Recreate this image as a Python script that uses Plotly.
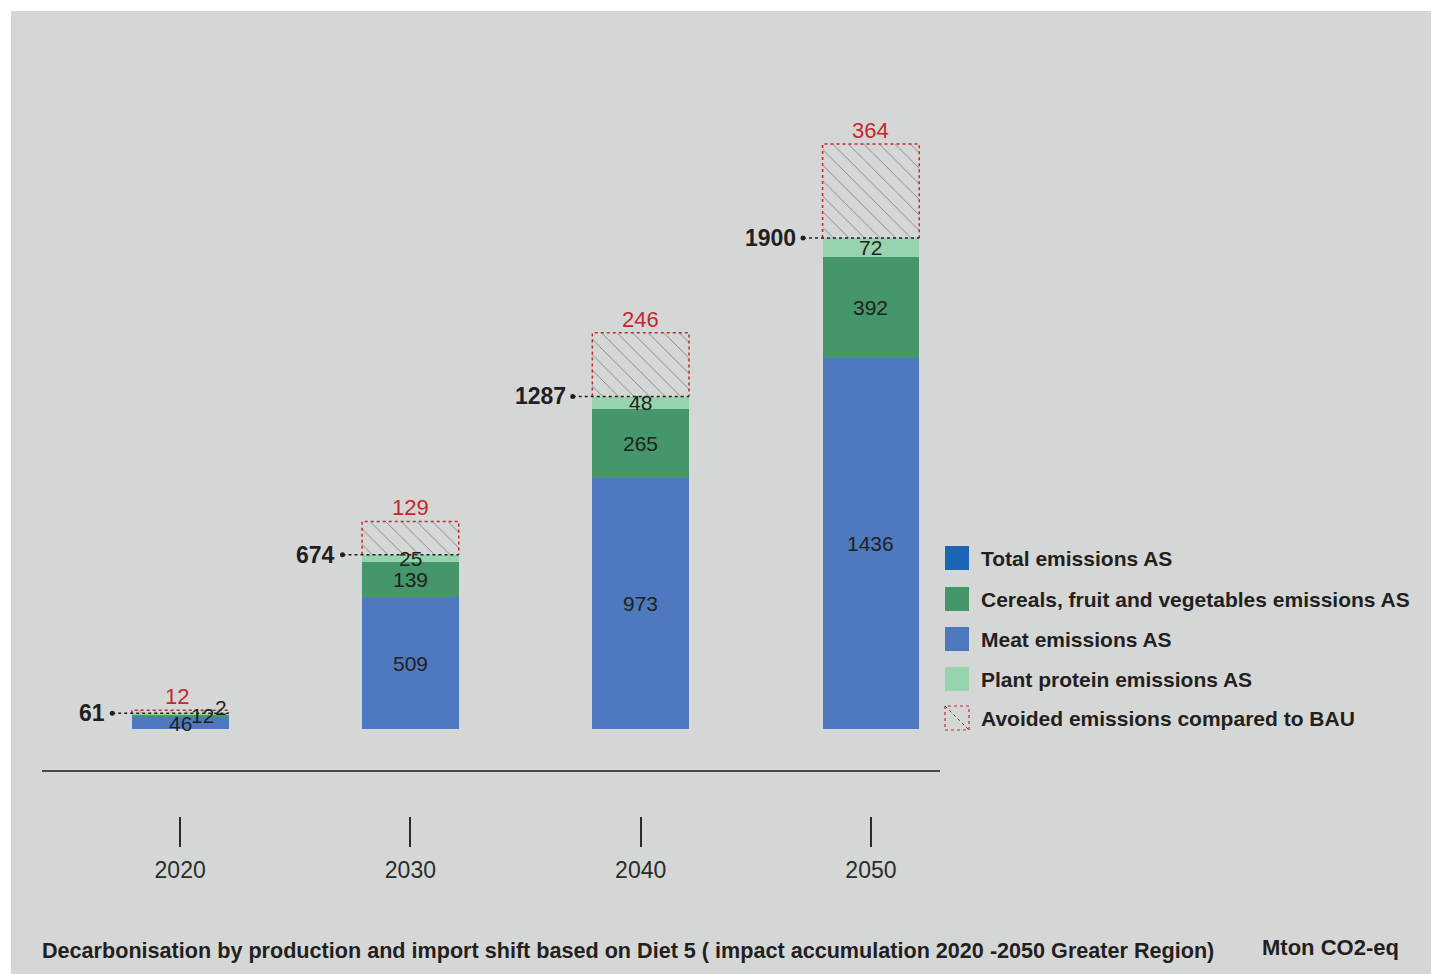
import plotly.graph_objects as go

# ---- data (Mton CO2-eq) ----
years = ["2020", "2030", "2040", "2050"]
meat = [46, 509, 973, 1436]
cereals = [12, 139, 265, 392]
plant_protein = [2, 25, 48, 72]
totals = [61, 674, 1287, 1900]
avoided = [12, 129, 246, 364]

legend_labels = [
    "Total emissions AS",
    "Cereals, fruit and vegetables emissions AS",
    "Meat emissions AS",
    "Plant protein emissions AS",
    "Avoided emissions compared to BAU",
]

# ---- styles ----
W, H = 1437, 974
BG = "#d5d7d6"
C_TOTAL = "#1a66b4"
C_CEREAL = "#45966a"
C_MEAT = "#4f79be"
C_PLANT = "#96d3ae"
C_RED = "#c4282f"
C_TEXT = "#231f20"
FONT = "Liberation Sans, Arial, sans-serif"

M_L, M_R, M_T, M_B = 42, 497, 100, 127
PLOT_W = W - M_L - M_R
PLOT_H = H - M_T - M_B
BASE_PX = 729            # pixel row of the zero line
PX_PER_UNIT = 491 / 1900
Y_RANGE = [-(H - M_B - BASE_PX) / PX_PER_UNIT, (BASE_PX - M_T) / PX_PER_UNIT]
X_RANGE = [-0.6, 3.3]
BAR_W = 0.42
HALF = BAR_W / 2
LEADER = 0.085


def px_x(p):
    return (p - M_L) / PLOT_W


def px_y(p):
    return (H - M_B - p) / PLOT_H


def data_y(p):
    return (BASE_PX - p) / PX_PER_UNIT


xs = list(range(len(years)))

fig = go.Figure()
fig.add_trace(go.Bar(x=xs, y=meat, width=BAR_W, marker=dict(color=C_MEAT, line_width=0),
                     name="Meat emissions AS", hoverinfo="skip"))
fig.add_trace(go.Bar(x=xs, y=cereals, width=BAR_W, marker=dict(color=C_CEREAL, line_width=0),
                     name="Cereals", hoverinfo="skip"))
fig.add_trace(go.Bar(x=xs, y=plant_protein, width=BAR_W, marker=dict(color=C_PLANT, line_width=0),
                     name="Plant protein", hoverinfo="skip"))
fig.add_trace(go.Bar(
    x=xs, y=avoided, width=BAR_W, name="Avoided", hoverinfo="skip",
    marker=dict(color=BG, line_width=0,
                pattern=dict(shape="\\", size=11, solidity=0.08, fgcolor="#2a2a2a", fgopacity=0.5)),
))

# leader dots next to the totals
fig.add_trace(go.Scatter(
    x=[i - HALF - LEADER for i in xs], y=totals, mode="markers",
    marker=dict(size=5, color=C_TEXT), hoverinfo="skip", showlegend=False,
))

shapes = []
annotations = []

# grey panel behind everything
shapes.append(dict(type="rect", xref="paper", yref="paper",
                   x0=px_x(11), x1=px_x(1431), y0=px_y(H + 5), y1=px_y(11),
                   fillcolor=BG, line_width=0, layer="below"))
# horizontal rule above the year ticks
shapes.append(dict(type="line", xref="paper", yref="y", x0=0, x1=1,
                   y0=data_y(771), y1=data_y(771), line=dict(color="#4a4a4a", width=2)))

for i, tot, av in zip(xs, totals, avoided):
    x0, x1 = i - HALF, i + HALF
    # avoided-emission box outline (left, top, right)
    shapes.append(dict(type="path", xref="x", yref="y",
                       path=f"M {x0},{tot} L {x0},{tot + av} L {x1},{tot + av} L {x1},{tot}",
                       line=dict(color=C_RED, width=1.5, dash="dot")))
    # dotted leader from the total label across the bar
    shapes.append(dict(type="line", xref="x", yref="y", x0=x0 - LEADER, x1=x1, y0=tot, y1=tot,
                       line=dict(color=C_TEXT, width=1.5, dash="dot")))
    annotations.append(dict(x=x0 - LEADER, y=tot, xref="x", yref="y", xanchor="right", yanchor="middle",
                            xshift=-5, text=f"<b>{tot}</b>", showarrow=False,
                            font=dict(size=23, color=C_TEXT, family=FONT)))
    annotations.append(dict(x=i, y=tot + av, xref="x", yref="y", xanchor="center", yanchor="bottom",
                            yshift=-1, xshift=-3 if i == 0 else 0, text=str(av), showarrow=False,
                            font=dict(size=22, color=C_RED, family=FONT)))

# value labels in the segments (small first bar gets staggered labels)
seg_shift = {
    0: [(0, 0), (22, 0), (41, 6)],
}
for i in xs:
    bottoms = [0, meat[i], meat[i] + cereals[i]]
    vals = [meat[i], cereals[i], plant_protein[i]]
    for k, (b, v) in enumerate(zip(bottoms, vals)):
        dx, dy = seg_shift.get(i, [(0, 0)] * 3)[k]
        annotations.append(dict(x=i, y=b + v / 2, xref="x", yref="y", xanchor="center", yanchor="middle",
                                xshift=dx, yshift=dy, text=str(v), showarrow=False,
                                font=dict(size=21, color=C_TEXT, family=FONT)))

# legend
leg_colors = [C_TOTAL, C_CEREAL, C_MEAT, C_PLANT, None]
leg_rows = [558, 599, 639, 679, 718]
for lab, col, row in zip(legend_labels, leg_colors, leg_rows):
    sx0, sx1, sy0, sy1 = px_x(945), px_x(969), px_y(row + 12), px_y(row - 12)
    if col:
        shapes.append(dict(type="rect", xref="paper", yref="paper", x0=sx0, x1=sx1, y0=sy0, y1=sy1,
                           fillcolor=col, line_width=0))
    else:
        shapes.append(dict(type="rect", xref="paper", yref="paper", x0=sx0, x1=sx1, y0=sy0, y1=sy1,
                           fillcolor=BG, line=dict(color=C_RED, width=1.2, dash="dot")))
        shapes.append(dict(type="line", xref="paper", yref="paper", x0=sx0, x1=sx1, y0=sy1, y1=sy0,
                           line=dict(color="#444", width=1, dash="dot")))
    annotations.append(dict(x=px_x(979), y=px_y(row), xref="paper", yref="paper", xanchor="left",
                            yanchor="middle", text=f"<b>{lab}</b>", showarrow=False,
                            font=dict(size=21, color=C_TEXT, family=FONT)))

# caption and unit
annotations.append(dict(x=px_x(40), y=px_y(950), xref="paper", yref="paper", xanchor="left", yanchor="middle",
                        text="<b>Decarbonisation by production and import shift based on Diet 5 "
                             "( impact accumulation 2020 -2050 Greater Region)</b>",
                        showarrow=False, font=dict(size=21.6, color=C_TEXT, family=FONT)))
annotations.append(dict(x=px_x(1401), y=px_y(948), xref="paper", yref="paper", xanchor="right", yanchor="middle",
                        text="<b>Mton CO2-eq</b>", showarrow=False,
                        font=dict(size=22, color=C_TEXT, family=FONT)))

fig.update_layout(
    width=W, height=H,
    margin=dict(l=M_L, r=M_R, t=M_T, b=M_B, pad=0),
    paper_bgcolor="white", plot_bgcolor="rgba(0,0,0,0)",
    barmode="stack", bargap=0, showlegend=False,
    font=dict(family=FONT, color=C_TEXT),
    shapes=shapes, annotations=annotations,
    xaxis=dict(range=X_RANGE, tickmode="array", tickvals=xs, ticktext=years,
               ticks="inside", ticklen=30, tickwidth=1.5, tickcolor="#2b2b2b",
               showline=False, showgrid=False, zeroline=False, fixedrange=True,
               ticklabelstandoff=7, tickfont=dict(size=23, color="#2b2b2b", family=FONT)),
    yaxis=dict(range=Y_RANGE, visible=False, showgrid=False, zeroline=False, fixedrange=True),
)

fig.write_html("out.html")
